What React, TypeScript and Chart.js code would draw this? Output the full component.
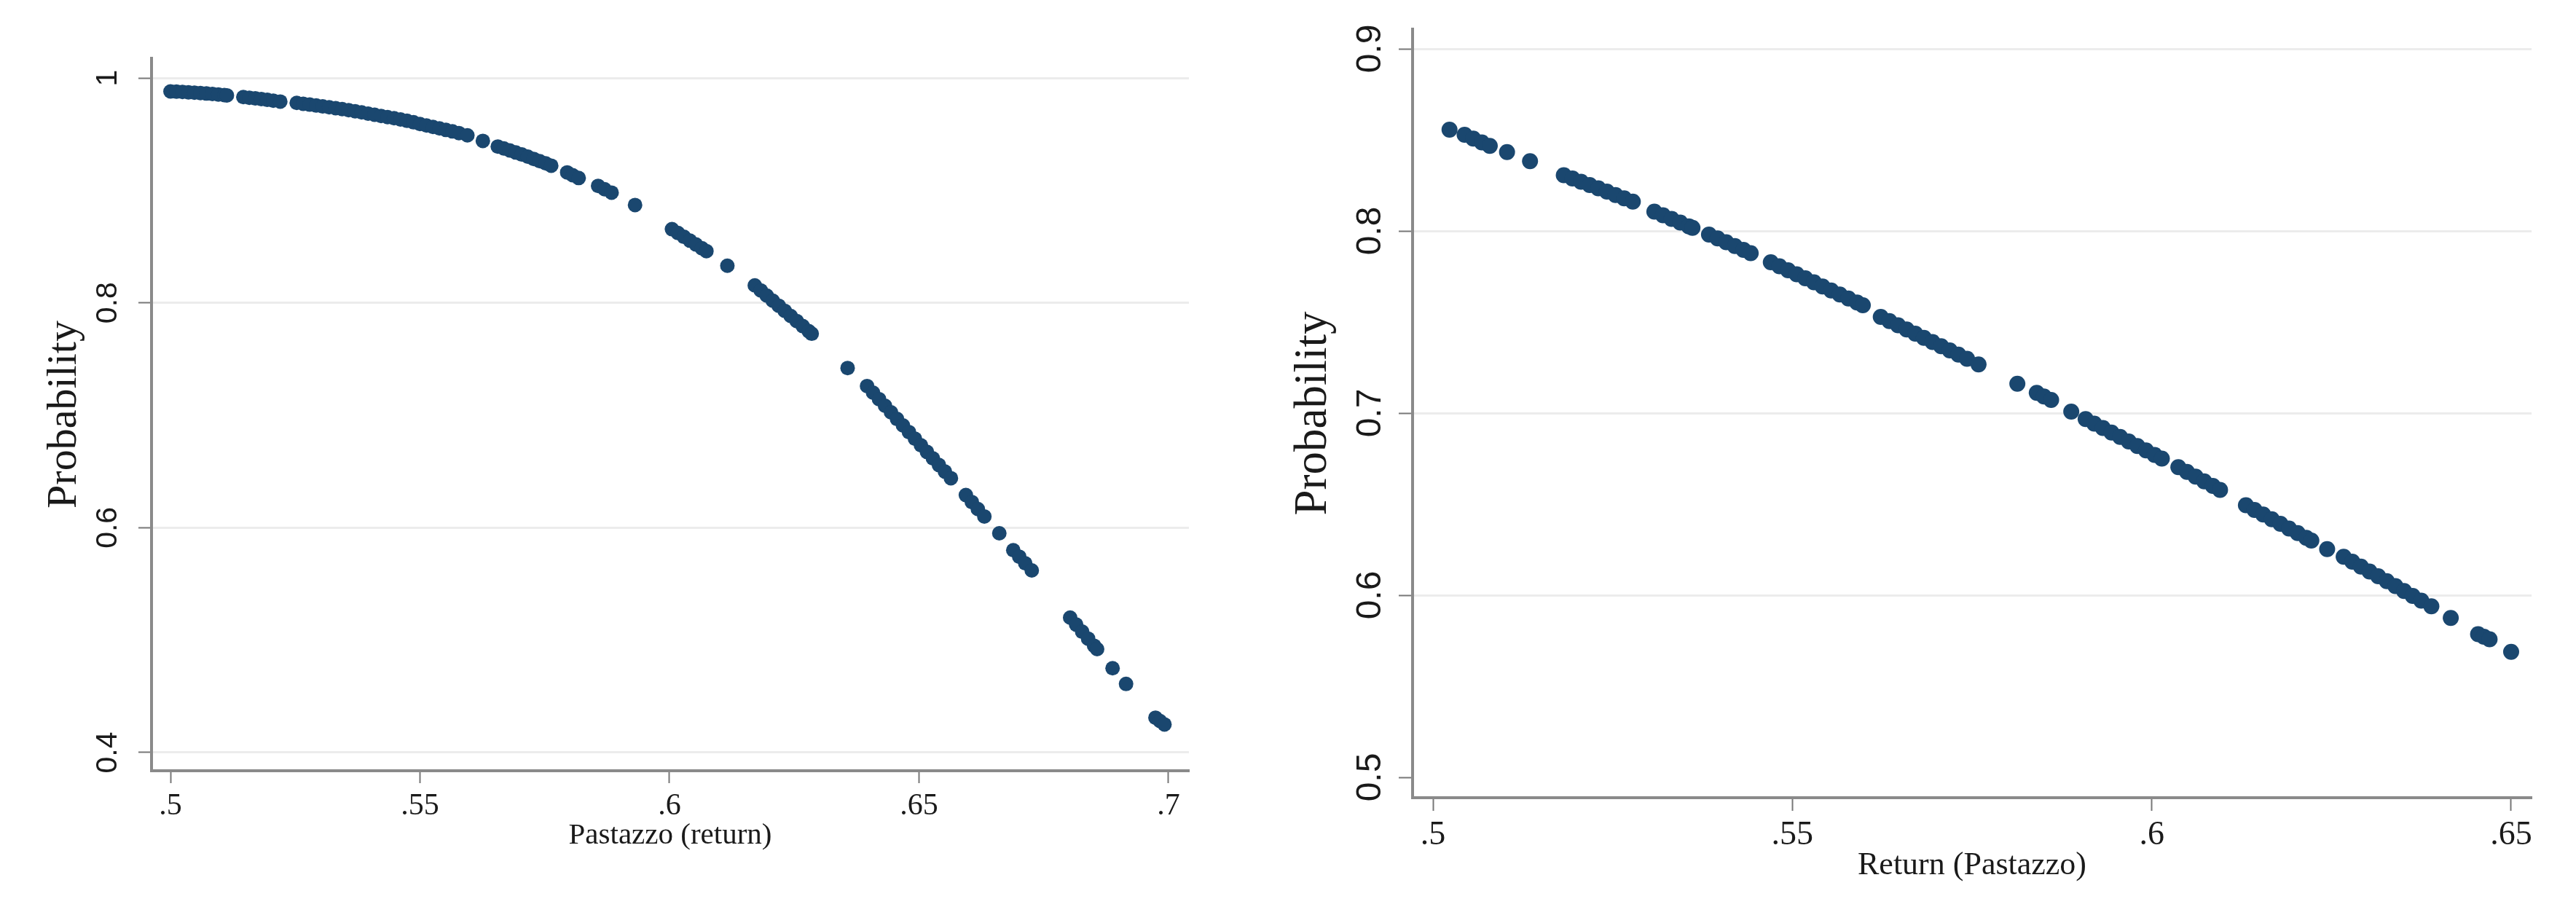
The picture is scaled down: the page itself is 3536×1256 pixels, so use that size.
import React, { useEffect, useRef } from "react";
import { Chart, registerables } from "chart.js";

Chart.register(...registerables);

// ---------- Left panel: Probability vs Pastazzo (return) ----------
const leftX = [
  0.5000, 0.5012, 0.5024, 0.5036, 0.5048, 0.5060, 0.5072, 0.5084, 0.5096, 0.5108, 0.5113,
  0.5146, 0.5158, 0.5170, 0.5182, 0.5194, 0.5206, 0.5220,
  0.5253, 0.5266, 0.5279, 0.5292, 0.5305, 0.5318, 0.5331, 0.5344, 0.5357, 0.5370,
  0.5383, 0.5396, 0.5409, 0.5422, 0.5435, 0.5448, 0.5461, 0.5474, 0.5487, 0.5500,
  0.5513, 0.5526, 0.5539, 0.5552, 0.5565, 0.5578, 0.5595,
  0.5626,
  0.5656, 0.5668, 0.5680, 0.5692, 0.5704, 0.5716, 0.5728, 0.5740, 0.5752, 0.5763,
  0.5795, 0.5806, 0.5818,
  0.5857, 0.5870, 0.5884,
  0.5931,
  0.6005, 0.6017, 0.6029, 0.6041, 0.6053, 0.6065, 0.6074,
  0.6116,
  0.6171, 0.6183, 0.6195, 0.6207, 0.6219, 0.6231, 0.6243, 0.6255, 0.6267, 0.6279, 0.6285,
  0.6357,
  0.6396, 0.6408, 0.6420, 0.6432, 0.6444, 0.6456, 0.6468, 0.6480, 0.6492, 0.6504,
  0.6516, 0.6528, 0.6540, 0.6552, 0.6564,
  0.6594, 0.6606, 0.6618, 0.6631,
  0.6661,
  0.6689, 0.6701, 0.6713, 0.6726,
  0.6803, 0.6815, 0.6827, 0.6839, 0.6851, 0.6857,
  0.6888,
  0.6915,
  0.6974, 0.6983, 0.6992,
];
const leftY = [
  0.9880, 0.9878, 0.9875, 0.9872, 0.9869, 0.9866, 0.9862, 0.9858, 0.9853, 0.9848, 0.9845,
  0.9830, 0.9824, 0.9818, 0.9812, 0.9805, 0.9798, 0.9790,
  0.9778, 0.9770, 0.9763, 0.9755, 0.9747, 0.9739, 0.9731, 0.9723, 0.9714, 0.9704,
  0.9694, 0.9683, 0.9673, 0.9662, 0.9652, 0.9642, 0.9631, 0.9619, 0.9606, 0.9590,
  0.9577, 0.9564, 0.9551, 0.9538, 0.9525, 0.9510, 0.9490,
  0.9440,
  0.9390, 0.9373, 0.9355, 0.9337, 0.9319, 0.9300, 0.9280, 0.9260, 0.9240, 0.9220,
  0.9160, 0.9135, 0.9110,
  0.9040, 0.9010, 0.8980,
  0.8870,
  0.8655, 0.8621, 0.8587, 0.8553, 0.8519, 0.8485, 0.8460,
  0.8330,
  0.8155, 0.8110, 0.8064, 0.8019, 0.7974, 0.7929, 0.7883, 0.7838, 0.7793, 0.7748, 0.7725,
  0.7420,
  0.7260, 0.7201, 0.7143, 0.7084, 0.7026, 0.6967, 0.6909, 0.6850, 0.6791, 0.6733,
  0.6674, 0.6616, 0.6557, 0.6499, 0.6440,
  0.6290, 0.6228, 0.6166, 0.6100,
  0.5950,
  0.5800, 0.5742, 0.5683, 0.5620,
  0.5200, 0.5138, 0.5075, 0.5013, 0.4950, 0.4920,
  0.4750,
  0.4610,
  0.4310, 0.4280, 0.4250,
];
const leftXTicks = [0.5, 0.55, 0.6, 0.65, 0.7];
const leftXTickLabels = [".5", ".55", ".6", ".65", ".7"];
const leftYTicks = [0.4, 0.6, 0.8, 1];
const leftYTickLabels = ["0.4", "0.6", "0.8", "1"];
const leftXTitle = "Pastazzo (return)";
const leftYTitle = "Probability";

// ---------- Right panel: Probability vs Return (Pastazzo) ----------
const rightX = [
  0.5023,
  0.5044, 0.5056, 0.5068, 0.5079,
  0.5103,
  0.5135,
  0.5182, 0.5194, 0.5206, 0.5218, 0.5230, 0.5242, 0.5254, 0.5266, 0.5278,
  0.5308, 0.5320, 0.5332, 0.5344, 0.5356, 0.5361,
  0.5384, 0.5396, 0.5408, 0.5420, 0.5432, 0.5442,
  0.5470, 0.5482, 0.5494, 0.5506, 0.5518, 0.5530, 0.5542, 0.5554, 0.5566, 0.5578, 0.5590, 0.5598,
  0.5623, 0.5635, 0.5647, 0.5659, 0.5671, 0.5683, 0.5695, 0.5707, 0.5719, 0.5731, 0.5743, 0.5759,
  0.5813,
  0.5840, 0.5850, 0.5860,
  0.5888,
  0.5908, 0.5920, 0.5932, 0.5944, 0.5956, 0.5968, 0.5980, 0.5992, 0.6004, 0.6014,
  0.6037, 0.6049, 0.6061, 0.6073, 0.6085, 0.6095,
  0.6131, 0.6143, 0.6155, 0.6167, 0.6179, 0.6191, 0.6203, 0.6215, 0.6222,
  0.6244,
  0.6267, 0.6279, 0.6291, 0.6303, 0.6315, 0.6327, 0.6339, 0.6351, 0.6363, 0.6375, 0.6389,
  0.6416,
  0.6454, 0.6462, 0.6470,
  0.6500,
];
const rightY = [
  0.8556,
  0.8528, 0.8507, 0.8486, 0.8467,
  0.8433,
  0.8383,
  0.8306, 0.8288, 0.8270, 0.8252, 0.8234, 0.8216, 0.8197, 0.8179, 0.8161,
  0.8106, 0.8086, 0.8066, 0.8046, 0.8025, 0.8017,
  0.7980, 0.7959, 0.7938, 0.7917, 0.7896, 0.7878,
  0.7828, 0.7806, 0.7784, 0.7762, 0.7740, 0.7718, 0.7695, 0.7673, 0.7651, 0.7629, 0.7607, 0.7592,
  0.7528, 0.7505, 0.7482, 0.7459, 0.7436, 0.7413, 0.7390, 0.7367, 0.7344, 0.7321, 0.7298, 0.7267,
  0.7161,
  0.7111, 0.7091, 0.7072,
  0.7008,
  0.6967, 0.6942, 0.6918, 0.6893, 0.6869, 0.6844, 0.6819, 0.6795, 0.6770, 0.6750,
  0.6703, 0.6677, 0.6651, 0.6625, 0.6600, 0.6578,
  0.6494, 0.6468, 0.6443, 0.6417, 0.6392, 0.6366, 0.6341, 0.6315, 0.6300,
  0.6253,
  0.6211, 0.6184, 0.6157, 0.6130, 0.6104, 0.6077, 0.6050, 0.6023, 0.5996, 0.5970, 0.5939,
  0.5875,
  0.5786, 0.5772, 0.5758,
  0.5689,
];
const rightXTicks = [0.5, 0.55, 0.6, 0.65];
const rightXTickLabels = [".5", ".55", ".6", ".65"];
const rightYTicks = [0.5, 0.6, 0.7, 0.8, 0.9];
const rightYTickLabels = ["0.5", "0.6", "0.7", "0.8", "0.9"];
const rightXTitle = "Return (Pastazzo)";
const rightYTitle = "Probability";

// ---------- styling ----------
const NAVY = "#1a476f";
const TEXT = "#1a1a1a";
const AXIS = "#8a8a8a";
const TICK = "#777777";
const GRID = "#ececec";
const SERIF = "'Liberation Serif', 'Times New Roman', serif";
const SANS = "'Liberation Sans', Arial, sans-serif";
const H = 1256;

type PanelSpec = {
  xs: number[];
  ys: number[];
  xTicks: number[];
  xLabels: string[];
  yTicks: number[];
  yLabels: string[];
  xTitle: string;
  yTitle: string;
  xMin: number;
  xMax: number;
  yMin: number;
  yMax: number;
  canvasWidth: number;
  pad: { left: number; right: number; top: number; bottom: number };
  yAxisWidth: number;
  xAxisHeight: number;
  radius: number;
  xTickSize: number;
  yTickSize: number;
  xTitleSize: number;
  yTitleSize: number;
  xTickPad: number;
  yTickPad: number;
  xTickLen: number;
  yTickLen: number;
  noGridAt: number[];
};

const leftSpec: PanelSpec = {
  xs: leftX,
  ys: leftY,
  xTicks: leftXTicks,
  xLabels: leftXTickLabels,
  yTicks: leftYTicks,
  yLabels: leftYTickLabels,
  xTitle: leftXTitle,
  yTitle: leftYTitle,
  xMin: 0.4962,
  xMax: 0.7041,
  yMin: 0.3838,
  yMax: 1.0175,
  canvasWidth: 1760,
  pad: { left: 54, right: 128, top: 80, bottom: 84 },
  yAxisWidth: 154,
  xAxisHeight: 114,
  radius: 10,
  xTickSize: 42,
  yTickSize: 41,
  xTitleSize: 41,
  yTitleSize: 58,
  xTickPad: 7,
  yTickPad: 13,
  xTickLen: 17,
  yTickLen: 18,
  noGridAt: [],
};

const rightSpec: PanelSpec = {
  xs: rightX,
  ys: rightY,
  xTicks: rightXTicks,
  xLabels: rightXTickLabels,
  yTicks: rightYTicks,
  yLabels: rightYTickLabels,
  xTitle: rightXTitle,
  yTitle: rightYTitle,
  xMin: 0.49716,
  xMax: 0.65284,
  yMin: 0.4888,
  yMax: 0.9108,
  canvasWidth: 1776,
  pad: { left: 6, right: 61, top: 40, bottom: 41 },
  yAxisWidth: 173,
  xAxisHeight: 120,
  radius: 11,
  xTickSize: 46,
  yTickSize: 48,
  xTitleSize: 44,
  yTitleSize: 63,
  xTickPad: 6,
  yTickPad: 5,
  xTickLen: 18,
  yTickLen: 19,
  noGridAt: [0.5],
};

function lookup(ticks: number[], labels: string[], v: number): string {
  const i = ticks.findIndex((t) => Math.abs(t - v) < 1e-9);
  return i >= 0 ? labels[i] : "";
}

function ScatterPanel({ spec }: { spec: PanelSpec }) {
  const ref = useRef<HTMLCanvasElement>(null);
  useEffect(() => {
    const canvas = ref.current;
    if (!canvas) return;
    const chart = new Chart(canvas, {
      type: "scatter",
      data: {
        datasets: [
          {
            data: spec.xs.map((x, i) => ({ x, y: spec.ys[i] })),
            backgroundColor: NAVY,
            borderColor: NAVY,
            borderWidth: 0,
            pointRadius: spec.radius,
            pointHoverRadius: spec.radius,
          },
        ],
      },
      options: {
        animation: false,
        responsive: false,
        devicePixelRatio: 1,
        events: [],
        layout: { padding: spec.pad },
        plugins: {
          legend: { display: false },
          tooltip: { enabled: false },
        },
        scales: {
          x: {
            type: "linear",
            position: "bottom",
            min: spec.xMin,
            max: spec.xMax,
            afterBuildTicks: (s: any) => {
              s.ticks = spec.xTicks.map((v) => ({ value: v }));
            },
            afterFit: (s: any) => {
              s.height = spec.xAxisHeight;
            },
            ticks: {
              autoSkip: false,
              minRotation: 0,
              maxRotation: 0,
              padding: spec.xTickPad,
              color: TEXT,
              font: { family: SERIF, size: spec.xTickSize },
              callback: (v: any) => lookup(spec.xTicks, spec.xLabels, Number(v)),
            },
            grid: {
              display: true,
              drawOnChartArea: false,
              drawTicks: true,
              tickLength: spec.xTickLen,
              tickColor: TICK,
              tickWidth: 2,
            },
            border: { display: true, color: AXIS, width: 4 },
            title: {
              display: true,
              text: spec.xTitle,
              color: TEXT,
              font: { family: SERIF, size: spec.xTitleSize },
              padding: 0,
            },
          },
          y: {
            type: "linear",
            position: "left",
            min: spec.yMin,
            max: spec.yMax,
            afterBuildTicks: (s: any) => {
              s.ticks = spec.yTicks.map((v) => ({ value: v }));
            },
            afterFit: (s: any) => {
              s.width = spec.yAxisWidth;
            },
            ticks: {
              autoSkip: false,
              minRotation: 90,
              maxRotation: 90,
              crossAlign: "center",
              padding: spec.yTickPad,
              color: TEXT,
              font: { family: SANS, size: spec.yTickSize },
              callback: (v: any) => lookup(spec.yTicks, spec.yLabels, Number(v)),
            },
            grid: {
              display: true,
              drawOnChartArea: true,
              drawTicks: true,
              lineWidth: 3,
              color: (ctx: any) =>
                ctx.tick && spec.noGridAt.some((g) => Math.abs(g - ctx.tick.value) < 1e-9)
                  ? "rgba(0,0,0,0)"
                  : GRID,
              tickLength: spec.yTickLen,
              tickColor: TICK,
              tickWidth: 2,
            },
            border: { display: true, color: AXIS, width: 4 },
            title: {
              display: true,
              text: spec.yTitle,
              color: TEXT,
              font: { family: SERIF, size: spec.yTitleSize },
              padding: 0,
            },
          },
        },
      } as any,
    });
    return () => chart.destroy();
  }, [spec]);
  return (
    <canvas
      ref={ref}
      width={spec.canvasWidth}
      height={H}
      style={{ display: "block", width: spec.canvasWidth, height: H }}
    />
  );
}

export default function App() {
  return (
    <div
      style={{
        position: "absolute",
        left: 0,
        top: 0,
        width: 3536,
        height: H,
        background: "#ffffff",
        display: "flex",
        flexDirection: "row",
        overflow: "hidden",
      }}
    >
      <ScatterPanel spec={leftSpec} />
      <ScatterPanel spec={rightSpec} />
    </div>
  );
}
